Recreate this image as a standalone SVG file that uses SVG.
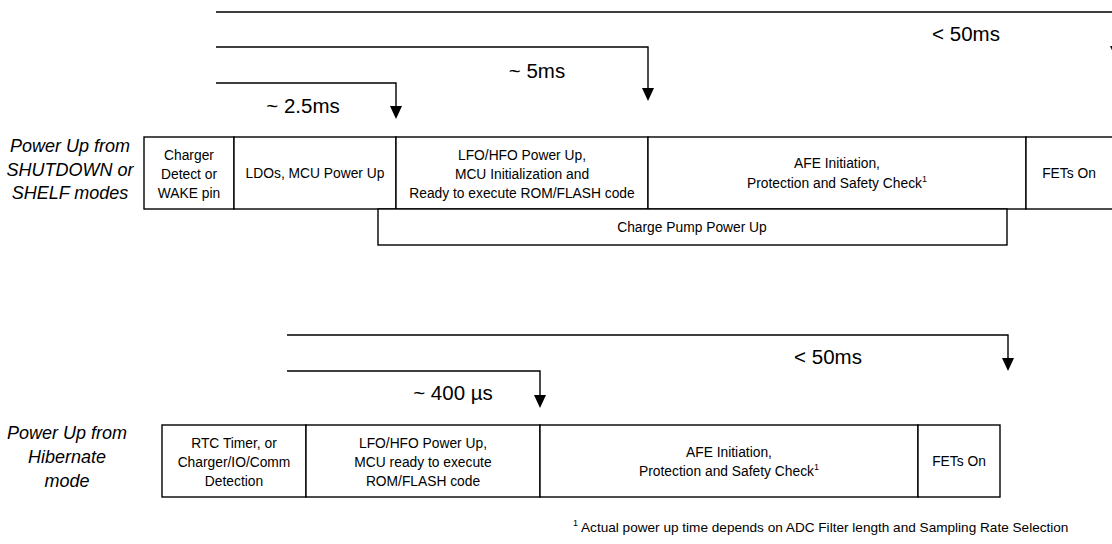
<svg xmlns="http://www.w3.org/2000/svg" width="1112" height="544" viewBox="0 0 1112 544">
<defs>
<marker id="ah" markerUnits="userSpaceOnUse" markerWidth="12" markerHeight="14" refX="6" refY="0" orient="0" viewBox="0 0 12 14" overflow="visible">
<path d="M0,0 L12,0 L6,13 Z" fill="#000"/>
</marker>
<style>
.ln{fill:none;stroke:#000;stroke-width:1.4}
.bx{fill:#fff;stroke:#000;stroke-width:1.4}
.t{font-family:"Liberation Sans",Arial,sans-serif;font-size:13.8px;fill:#000;text-anchor:middle;dominant-baseline:central}
.lab{font-family:"Liberation Sans",Arial,sans-serif;font-size:20.5px;fill:#000;text-anchor:middle;dominant-baseline:central}
.side{font-family:"Liberation Sans",Arial,sans-serif;font-size:18px;font-style:italic;fill:#000;text-anchor:middle;dominant-baseline:central}
.fn{font-family:"Liberation Sans",Arial,sans-serif;font-size:13.6px;fill:#000;dominant-baseline:central}
</style>
</defs>
<rect width="1112" height="544" fill="#fff"/>

<g id="connectors">
<polyline class="ln" points="216,12 1116,12 1116,46" marker-end="url(#ah)"/>
<polyline class="ln" points="216,47 648,47 648,88" marker-end="url(#ah)"/>
<polyline class="ln" points="216,83 396,83 396,106" marker-end="url(#ah)"/>
<polyline class="ln" points="287,335 1008,335 1008,358" marker-end="url(#ah)"/>
<polyline class="ln" points="287,371 540,371 540,395" marker-end="url(#ah)"/>
</g>

<g id="timing-labels">
<text class="lab" x="966" y="33">&lt; 50ms</text>
<text class="lab" x="537" y="70">~ 5ms</text>
<text class="lab" x="303" y="105">~ 2.5ms</text>
<text class="lab" x="828" y="356">&lt; 50ms</text>
<text class="lab" x="453" y="392">~ 400 µs</text>
</g>

<g id="label-shutdown">
<text class="side" x="70" y="146">Power Up from</text>
<text class="side" x="70" y="170">SHUTDOWN or</text>
<text class="side" x="70" y="193">SHELF modes</text>
</g>

<g id="s1-charger">
<rect class="bx" x="144" y="137" width="90" height="72"/>
<text class="t" x="189" y="155">Charger</text>
<text class="t" x="189" y="174">Detect or</text>
<text class="t" x="189" y="193">WAKE pin</text>
</g>
<g id="s1-ldo">
<rect class="bx" x="234" y="137" width="162" height="72"/>
<text class="t" x="315" y="173">LDOs, MCU Power Up</text>
</g>
<g id="s1-lfo">
<rect class="bx" x="396" y="137" width="252" height="72"/>
<text class="t" x="522" y="155">LFO/HFO Power Up,</text>
<text class="t" x="522" y="174">MCU Initialization and</text>
<text class="t" x="522" y="193">Ready to execute ROM/FLASH code</text>
</g>
<g id="s1-afe">
<rect class="bx" x="648" y="137" width="378" height="72"/>
<text class="t" x="837" y="163">AFE Initiation,</text>
<text class="t" x="837" y="183">Protection and Safety Check<tspan font-size="9" dy="-4">1</tspan></text>
</g>
<g id="s1-fets">
<rect class="bx" x="1026" y="137" width="90" height="72"/>
<text class="t" x="1069" y="173">FETs On</text>
</g>
<g id="s1-pump">
<rect class="bx" x="378" y="209" width="629" height="36"/>
<text class="t" x="692" y="227">Charge Pump Power Up</text>
</g>

<g id="label-hibernate">
<text class="side" x="67" y="433">Power Up from</text>
<text class="side" x="67" y="457">Hibernate</text>
<text class="side" x="67" y="481">mode</text>
</g>

<g id="s2-rtc">
<rect class="bx" x="162" y="425" width="144" height="72"/>
<text class="t" x="234" y="443">RTC Timer, or</text>
<text class="t" x="234" y="462">Charger/IO/Comm</text>
<text class="t" x="234" y="481">Detection</text>
</g>
<g id="s2-lfo">
<rect class="bx" x="306" y="425" width="234" height="72"/>
<text class="t" x="423" y="443">LFO/HFO Power Up,</text>
<text class="t" x="423" y="462">MCU ready to execute</text>
<text class="t" x="423" y="481">ROM/FLASH code</text>
</g>
<g id="s2-afe">
<rect class="bx" x="540" y="425" width="378" height="72"/>
<text class="t" x="729" y="452">AFE Initiation,</text>
<text class="t" x="729" y="471">Protection and Safety Check<tspan font-size="9" dy="-4">1</tspan></text>
</g>
<g id="s2-fets">
<rect class="bx" x="918" y="425" width="82" height="72"/>
<text class="t" x="959" y="461">FETs On</text>
</g>

<g id="footnote">
<text class="fn" x="573" y="527"><tspan font-size="9" dy="-4">1</tspan><tspan dy="4"> Actual power up time depends on ADC Filter length and Sampling Rate Selection</tspan></text>
</g>
</svg>
